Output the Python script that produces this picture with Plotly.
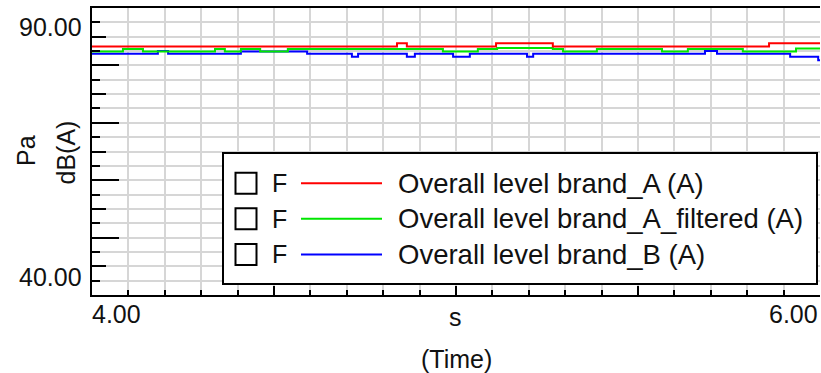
import plotly.graph_objects as go

# ---------------- data ----------------
series_names = ["Overall level brand_A (A)",
                "Overall level brand_A_filtered (A)",
                "Overall level brand_B (A)"]

time_red = [4.000, 4.838, 4.865, 5.110, 5.266, 5.860, 6.000]
level_red = [83.3, 83.85, 83.3, 83.85, 83.3, 83.85, 83.85]

time_green = [4.000, 4.085, 4.140, 4.338, 4.365, 4.409, 4.462, 4.538, 4.964, 5.060,
              5.113, 5.266, 5.294, 5.387, 5.566, 5.637, 5.788, 5.934, 6.000]
level_green = [82.4, 82.85, 82.4, 82.85, 82.4, 82.85, 82.4, 82.85, 82.4, 82.85,
               83.05, 82.85, 82.4, 82.85, 82.4, 82.85, 82.4, 82.95, 82.95]

time_blue = [4.000, 4.181, 4.209, 4.409, 4.591, 4.714, 4.731, 4.865, 4.887, 4.992,
             5.038, 5.195, 5.212, 5.684, 5.717, 5.918, 5.995, 6.000]
level_blue = [82.05, 82.5, 82.05, 82.4, 82.05, 81.5, 82.05, 81.5, 82.05, 81.5,
              82.05, 81.5, 82.05, 82.5, 82.05, 81.5, 80.9, 80.9]

x_range = [4.0, 6.0]
y_range = [40.0, 90.0]
x_tick_labels = ["4.00", "6.00"]
y_tick_labels = ["40.00", "90.00"]
x_title = ["s", "(Time)"]
y_title = ["Pa", "dB(A)"]
legend_flag = "F"

colors = ["#ff0000", "#00e600", "#0000ff"]

# ---------------- figure ----------------
W, H = 821, 373
ML, MR, MT, MB = 92, 1, 8, 78
PW, PH = W - ML - MR, H - MT - MB


def px_x(px):
    return (px - ML) / PW


def px_y(py):
    return (H - MB - py) / PH


FONT = "Liberation Sans, Arial, sans-serif"
TXT = "#111111"
GRID = "#d6d6d6"

fig = go.Figure()
for t, v, name, col in [(time_blue, level_blue, series_names[2], colors[2]),
                        (time_green, level_green, series_names[1], colors[1]),
                        (time_red, level_red, series_names[0], colors[0])]:
    fig.add_trace(go.Scatter(x=t, y=v, mode="lines", name=name,
                             line=dict(color=col, width=2, shape="hv"),
                             showlegend=False))
# empty trace registering the medium-tick axis
fig.add_trace(go.Scatter(x=[], y=[], yaxis="y2", showlegend=False))

fig.update_layout(
    width=W, height=H,
    margin=dict(l=ML, r=MR, t=MT, b=MB, pad=0),
    paper_bgcolor="white", plot_bgcolor="white",
    font=dict(family=FONT, size=25, color=TXT),
    xaxis=dict(range=x_range, showline=True, linecolor="black", linewidth=2, mirror=True,
               ticks="inside", ticklen=9, tickwidth=1.5, tickcolor="black",
               tick0=4, dtick=0.5, showticklabels=False, zeroline=False,
               showgrid=True, gridcolor=GRID, gridwidth=2,
               minor=dict(tick0=4, dtick=0.1, ticks="inside", ticklen=5, tickwidth=1.5,
                          tickcolor="black", showgrid=True, gridcolor=GRID, gridwidth=2)),
    yaxis=dict(range=y_range, showline=True, linecolor="black", linewidth=2, mirror=False,
               ticks="inside", ticklen=27, tickwidth=2, tickcolor="black",
               tick0=40, dtick=10, showticklabels=False, zeroline=False,
               showgrid=True, gridcolor=GRID, gridwidth=2,
               minor=dict(tick0=40, dtick=2.5, ticks="inside", ticklen=8, tickwidth=2,
                          tickcolor="black", showgrid=True, gridcolor=GRID, gridwidth=2)),
    yaxis2=dict(range=y_range, overlaying="y", anchor="x", side="left",
                ticks="inside", ticklen=14, tickwidth=2, tickcolor="black",
                tick0=40, dtick=5, showticklabels=False, showgrid=False,
                showline=False, zeroline=False),
    showlegend=False,
)

ann = []
# axis end labels
ann.append(dict(text=y_tick_labels[1], xref="paper", x=0, xanchor="right", xshift=-8,
                yref="y", y=y_range[1], yanchor="top", yshift=-3, showarrow=False))
ann.append(dict(text=y_tick_labels[0], xref="paper", x=0, xanchor="right", xshift=-8,
                yref="y", y=y_range[0], yanchor="bottom", yshift=2, showarrow=False))
ann.append(dict(text=x_tick_labels[0], xref="x", x=x_range[0], xanchor="left", xshift=-2,
                yref="paper", y=0, yanchor="top", yshift=-3, showarrow=False))
ann.append(dict(text=x_tick_labels[1], xref="x", x=x_range[1], xanchor="right", xshift=0,
                yref="paper", y=0, yanchor="top", yshift=-3, showarrow=False))
# axis titles
ann.append(dict(text=x_title[0], xref="paper", x=px_x(455), xanchor="center",
                yref="paper", y=px_y(317), yanchor="middle", showarrow=False))
ann.append(dict(text=x_title[1], xref="paper", x=px_x(456), xanchor="center",
                yref="paper", y=px_y(359), yanchor="middle", showarrow=False))
ann.append(dict(text=y_title[0], xref="paper", x=px_x(26), xanchor="center",
                yref="paper", y=px_y(151), yanchor="middle", textangle=-90, showarrow=False))
ann.append(dict(text=y_title[1], xref="paper", x=px_x(65), xanchor="center",
                yref="paper", y=px_y(152.5), yanchor="middle", textangle=-90, showarrow=False))

shapes = []
# legend box
shapes.append(dict(type="rect", xref="paper", yref="paper", layer="above",
                   x0=px_x(223), x1=px_x(817), y0=px_y(284), y1=px_y(153),
                   fillcolor="white", line=dict(color="black", width=2)))
rows = [183.3, 218.8, 254.5]
for row, name, col in zip(rows, series_names, colors):
    shapes.append(dict(type="rect", xref="paper", yref="paper", layer="above",
                       x0=px_x(235.5), x1=px_x(256.5), y0=px_y(row + 10.5), y1=px_y(row - 10.5),
                       fillcolor="white", line=dict(color="black", width=2)))
    shapes.append(dict(type="line", xref="paper", yref="paper", layer="above",
                       x0=px_x(301), x1=px_x(382), y0=px_y(row), y1=px_y(row),
                       line=dict(color=col, width=2)))
    ann.append(dict(text=legend_flag, xref="paper", x=px_x(270), xanchor="left",
                    yref="paper", y=px_y(row), yanchor="middle", showarrow=False,
                    font=dict(size=25)))
    ann.append(dict(text=name, xref="paper", x=px_x(396), xanchor="left",
                    yref="paper", y=px_y(row), yanchor="middle", showarrow=False,
                    font=dict(size=27.5)))

fig.update_layout(annotations=ann, shapes=shapes)
fig.write_html("out.html", config={"displayModeBar": False},
               post_script="document.body.style.margin='0';document.body.style.overflow='hidden';")
